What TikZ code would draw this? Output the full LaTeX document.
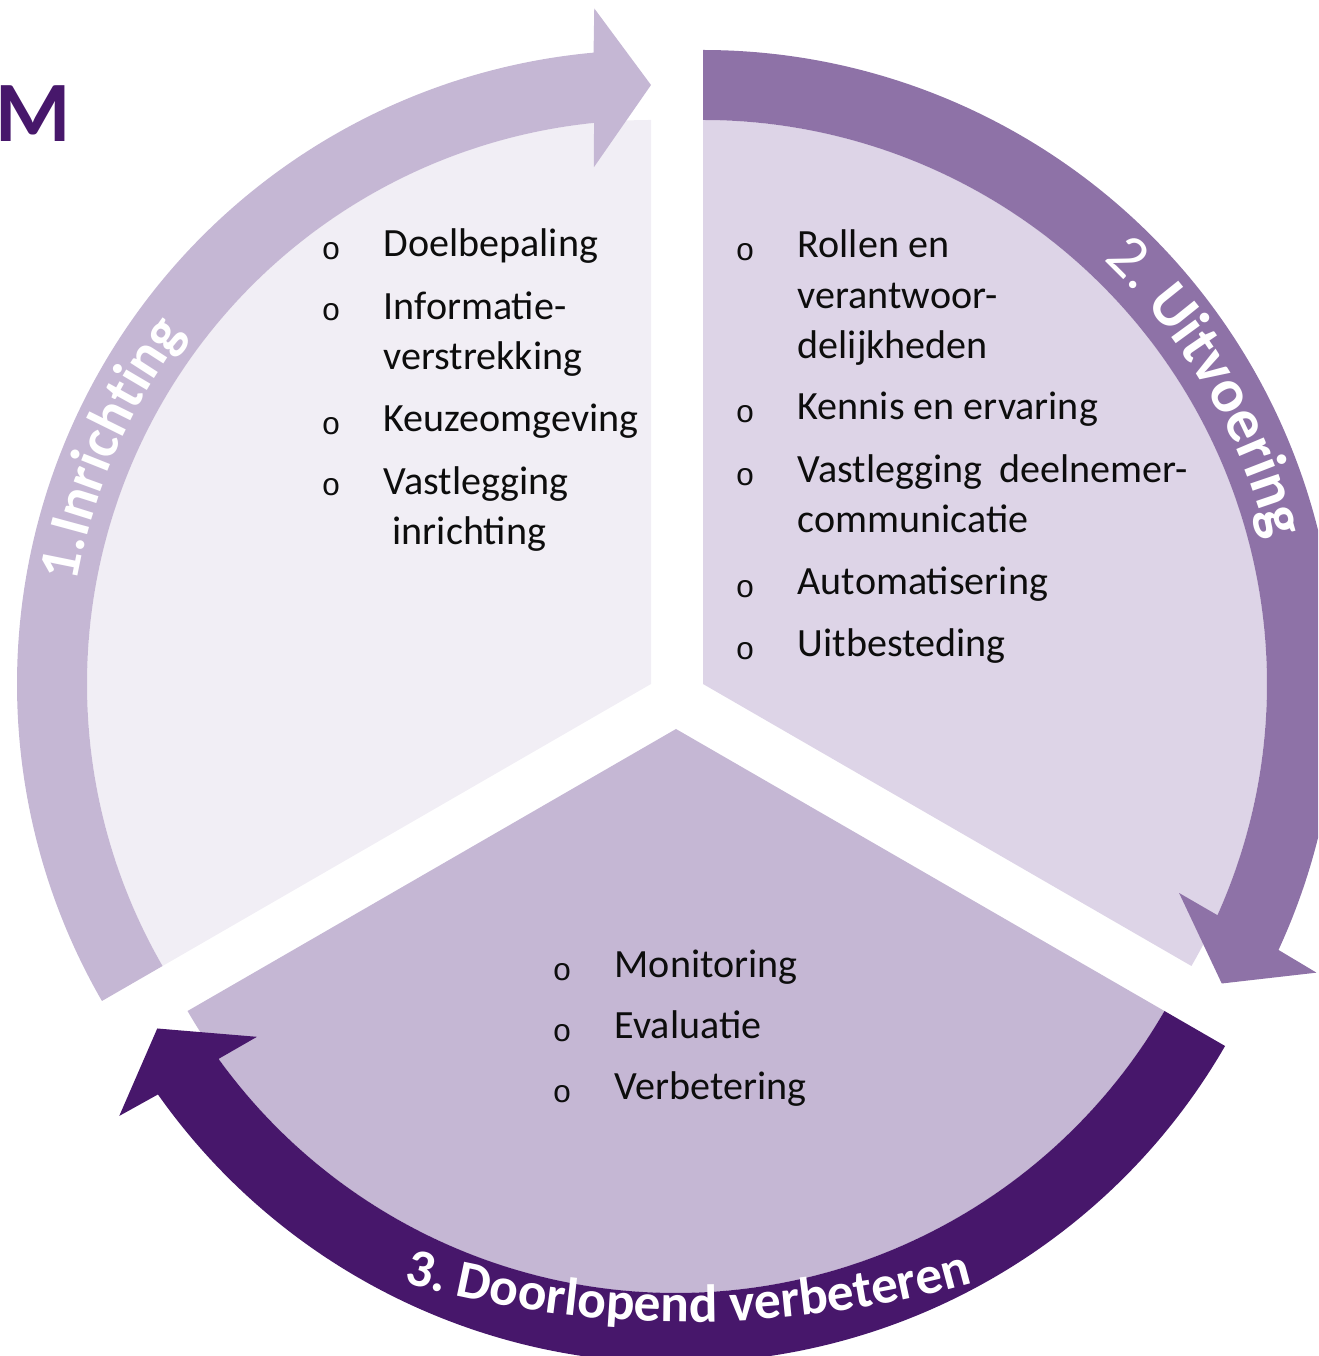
\documentclass[tikz,border=0pt]{standalone}
\usepackage{fontspec}
\setmainfont{Carlito}
\newfontfamily\bolfont{Liberation Mono}
\usetikzlibrary{decorations.text}

\definecolor{sectorlinks}{HTML}{F1EEF5}
\definecolor{sectorrechts}{HTML}{DDD4E7}
\definecolor{lila}{HTML}{C5B7D4}
\definecolor{paars}{HTML}{8E72A7}
\definecolor{donkerpaars}{HTML}{47176B}
\definecolor{zwart}{HTML}{0D0D0D}

\begin{document}
\begin{tikzpicture}[
    tekst/.style={anchor=base west, inner sep=0pt, align=left, text=zwart,
                  font=\fontsize{11.4}{14.5}\selectfont},
    bol/.style={inner sep=0pt, text=zwart, font=\bolfont\fontsize{9}{9}\selectfont},
    bandlabel/.style={decorate, decoration={text along path, text align=center, text={#1}}}
]
    \useasboundingbox (0,0) rectangle (13.18,13.56);
    \clip (0,0) rectangle (13.18,13.56);

    % pijlband rond een sector: middelpunt, beginhoek, hoek van de punt, kleur
    \def\pijl#1#2#3#4{%
        \fill[#4, shift={#1}] (#2:6.34) arc[start angle=#2, end angle=#3+5.2, radius=6.34]
            -- (#3+4.8:6.78) -- (#3:5.99) -- (#3+6.3:5.20) -- (#3+5.8:5.64)
            arc[start angle=#3+5.8, end angle=#2, radius=5.64] -- cycle;%
    }

    % opsommingspunt met tekst: naam, x, y eerste regel, y laatste regel, tekst
    \def\punt#1#2#3#4#5{%
        \node[bol] (#1-o) at (#2-0.52, #3+0.06) {o};%
        \node[tekst] (#1) at (#2, #4) {#5};%
    }

    % -- Sectoren --
    \fill[sectorlinks] (6.51,6.72) -- ++(90:5.64) arc[start angle=90, end angle=210, radius=5.64] -- cycle;
    \fill[sectorrechts] (7.03,6.72) -- ++(90:5.64) arc[start angle=90, end angle=-30, radius=5.64] -- cycle;
    \fill[lila] (6.76,6.27) -- ++(-30:5.64) arc[start angle=-30, end angle=-150, radius=5.64] -- cycle;

    % -- Pijlen --
    \pijl{(6.51,6.72)}{210}{90}{lila}
    \pijl{(7.03,6.72)}{90}{-30}{paars}
    \pijl{(6.76,6.27)}{-30}{-150}{donkerpaars}

    % -- Tekst op de pijlen --
    \path[bandlabel={|\bfseries\fontsize{16.5}{17}\selectfont\color{white}|1.Inrichting}]
        (6.51,6.72) ++(175:5.83) arc[start angle=175, end angle=138, radius=5.83];
    \path[bandlabel={|\fontsize{17.5}{18}\selectfont\color{white}|2. |\bfseries\fontsize{17.5}{18}\selectfont\color{white}|Uitvoering}]
        (7.03,6.72) ++(56:5.83) arc[start angle=56, end angle=5, radius=5.83];
    % vlakkere boog dan de band zelf
    \path[bandlabel={|\bfseries\fontsize{15.2}{16}\selectfont\color{white}|3. Doorlopend verbeteren}]
        (6.88,10.84) ++(-112:10.50) arc[start angle=-112, end angle=-68, radius=10.50];

    \node[anchor=base west, inner sep=0pt, text=donkerpaars,
          font=\bfseries\fontsize{24.5}{26}\selectfont] (m) at (-0.05,12.14) {M};

    % -- 1. Inrichting --
    \punt{doel}{3.83}{10.99}{10.99}{Doelbepaling}
    \punt{info}{3.83}{10.38}{9.86}{Informatie-\\verstrekking}
    \punt{keuze}{3.83}{9.24}{9.24}{Keuzeomgeving}
    \punt{vastinr}{3.83}{8.63}{8.11}{Vastlegging\\\hspace{0.09cm}inrichting}

    % -- 2. Uitvoering --
    \punt{rollen}{7.97}{10.98}{9.97}{Rollen en\\verantwoor-\\delijkheden}
    \punt{kennis}{7.97}{9.36}{9.36}{Kennis en ervaring}
    \punt{vastcom}{7.97}{8.73}{8.23}{Vastlegging\hspace{0.17cm}deelnemer-\\communicatie}
    \punt{auto}{7.97}{7.61}{7.61}{Automatisering}
    \punt{uitbest}{7.97}{6.99}{6.99}{Uitbesteding}

    % -- 3. Doorlopend verbeteren --
    \punt{monit}{6.14}{3.78}{3.78}{Monitoring}
    \punt{eval}{6.14}{3.17}{3.17}{Evaluatie}
    \punt{verbet}{6.14}{2.56}{2.56}{Verbetering}
\end{tikzpicture}
\end{document}
